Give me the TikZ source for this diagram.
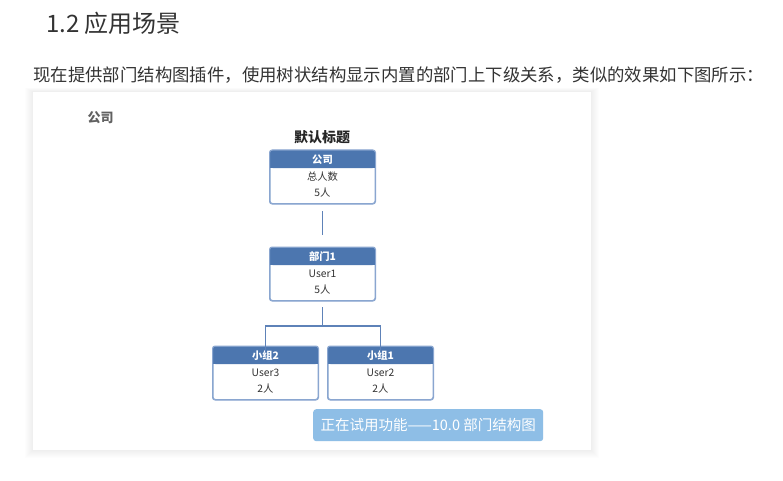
\documentclass[tikz,border=0pt]{standalone}
\usepackage{fontspec}
\setmainfont{Noto Sans CJK SC}
\newfontfamily\cjk{Noto Sans CJK SC}
\definecolor{hdr}{HTML}{4C76AF}
\definecolor{bord}{HTML}{8AA6D0}
\definecolor{wire}{HTML}{5E82B8}
\definecolor{wm}{HTML}{8EBEE6}
\definecolor{txt}{HTML}{333333}
\tikzset{
  x=1pt, y=-1pt,
  card/.style={draw=bord, line width=1pt, rounded corners=2.5pt, fill=white, minimum width=105pt, minimum height=53pt, inner sep=0pt},
  cardtxt/.style={font=\fontsize{10.3}{12}\selectfont, text=txt},
  hdrtxt/.style={font=\fontsize{10.3}{12}\selectfont\bfseries, text=white},
  wirestyle/.style={draw=wire, line width=1.8pt}
}
\newcommand{\orgcard}[6]{%
  \node[card, anchor=north] (#1) at (#2,#3) {};
  \fill[hdr, rounded corners=2.5pt] ([xshift=0.5pt,yshift=-0.5pt]#1.north west) rectangle ([xshift=-0.5pt,yshift=-18pt]#1.north east);
  \fill[hdr] ([xshift=0.5pt,yshift=-10pt]#1.north west) rectangle ([xshift=-0.5pt,yshift=-18pt]#1.north east);
  \draw[bord, line width=1pt, rounded corners=2.5pt] (#1.north west) rectangle (#1.south east);
  \node[hdrtxt] (#1h) at ([yshift=-9.5pt]#1.north) {#4};
  \node[cardtxt] (#1a) at ([yshift=-26.5pt]#1.north) {#5};
  \node[cardtxt] (#1b) at ([yshift=-43pt]#1.north) {#6};
}
\begin{document}
\begin{tikzpicture}
\useasboundingbox (0,0) rectangle (783,481);
\fill[white] (0,0) rectangle (783,481);
% heading
\node[anchor=west, font=\fontsize{24}{28}\selectfont, text=txt, inner sep=0pt] (title) at (46,23) {1.2 应用场景};
\node[anchor=west, font=\fontsize{17.4}{20}\selectfont, text=txt, inner sep=0pt] (intro) at (33,75) {现在提供部门结构图插件，使用树状结构显示内置的部门上下级关系，类似的效果如下图所示：};
% panel soft shadow
\foreach \i in {1,...,8} {
  \fill[black, opacity=0.008] (33-\i,92-\i*0.5) rectangle (591+\i,450+\i);
}
\node[fill=white, minimum width=558pt, minimum height=358pt, inner sep=0pt, anchor=north west] (panel) at (33,92) {};
\node[anchor=west, font=\fontsize{13}{15}\selectfont\bfseries, text=black!62] (lbl) at (84,118) {公司};
\node[font=\fontsize{14}{16}\selectfont\bfseries, text=black!85] (deftitle) at (322,137) {默认标题};
% cards
\orgcard{c0}{322.5}{150}{公司}{总人数}{5人}
\orgcard{c1}{322.5}{247}{部门1}{User1}{5人}
\orgcard{c2}{265.5}{346}{小组2}{User3}{2人}
\orgcard{c3}{380.5}{346}{小组1}{User2}{2人}
% connectors
\coordinate (j1) at ([yshift=-25pt]c1.south);
\draw[wirestyle] ([yshift=-7pt]c0.south) -- ([yshift=12pt]c1.north);
\draw[wirestyle] ([yshift=-6pt]c1.south) -- (j1);
\draw[wirestyle] ([yshift=-6pt]c2.north) |- (j1) -| ([yshift=-6pt]c3.north);
% watermark
\node[fill=wm, rounded corners=3pt, minimum width=230pt, minimum height=32pt, anchor=north west, text=white, font=\fontsize{14.5}{17}\selectfont] (wmk) at (313,409) {正在试用功能——10.0 部门结构图};
\end{tikzpicture}
\end{document}
